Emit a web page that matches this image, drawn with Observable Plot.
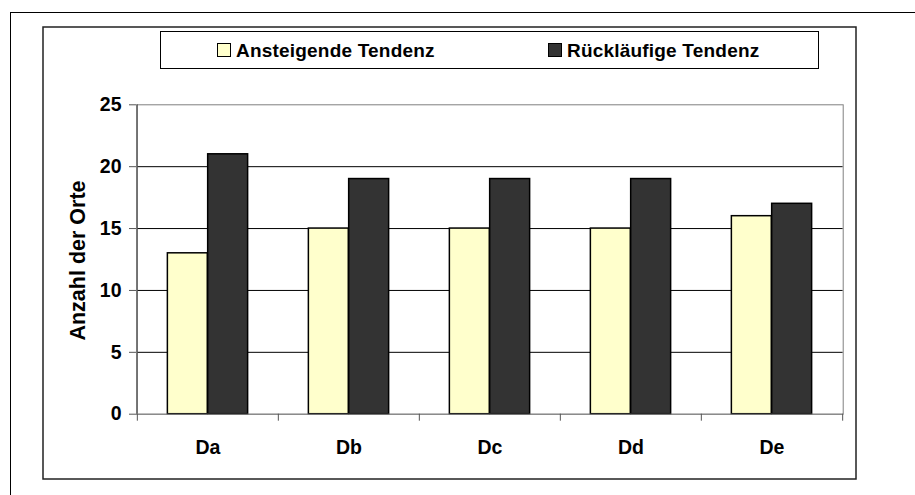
<!DOCTYPE html>
<html><head><meta charset="utf-8">
<script src="https://cdn.jsdelivr.net/npm/d3@7"></script>
<script src="https://cdn.jsdelivr.net/npm/@observablehq/plot@0.6"></script>
<style>body{margin:0;background:#fff} svg{display:block}</style>
</head><body><div id="chart"></div>
<script>
const categories = ["Da", "Db", "Dc", "Dd", "De"];
const seriesNames = ["Ansteigende Tendenz", "Rückläufige Tendenz"];
const ansteigende = [13, 15, 15, 15, 16];
const ruecklaeufige = [21, 19, 19, 19, 17];
const yTicks = [0, 5, 10, 15, 20, 25];
const gridValues = [5, 10, 15, 20];
const colors = ["#FFFFCC", "#333333"];
const yLabel = "Anzahl der Orte";

const data = categories.flatMap((c, i) => [
  {cat: c, series: seriesNames[0], value: ansteigende[i]},
  {cat: c, series: seriesNames[1], value: ruecklaeufige[i]}
]);

const W = 915, H = 495, mL = 136, mR = 72.3, mT = 104.3, mB = 81.3;
const bw = (W - mL - mR) / categories.length;
const barW = 40.3;
const font = "'Liberation Sans', Arial, sans-serif";

const svg = Plot.plot({
  width: W, height: H,
  marginLeft: mL, marginRight: mR, marginTop: mT, marginBottom: mB,
  style: {fontFamily: font, fontSize: "19.5px", fontWeight: "bold", background: "#fff", color: "#000"},
  x: {type: "band", domain: categories, padding: 0, label: null},
  y: {domain: [0, 25], label: null},
  color: {domain: seriesNames, range: colors},
  marks: [
    Plot.ruleY(gridValues, {stroke: "#000", strokeWidth: 1}),
    Plot.frame({stroke: "#808080", strokeWidth: 1}),
    Plot.barY(data.filter(d => d.series === seriesNames[0]), {
      x: "cat", y: "value", fill: "series", stroke: "#000", strokeWidth: 1.5,
      insetLeft: bw / 2 - barW, insetRight: bw / 2
    }),
    Plot.barY(data.filter(d => d.series === seriesNames[1]), {
      x: "cat", y: "value", fill: "series", stroke: "#000", strokeWidth: 1.5,
      insetLeft: bw / 2, insetRight: bw / 2 - barW
    }),
    Plot.ruleY([0], {stroke: "#808080"}),
    Plot.ruleX(categories, {x: d => d, dx: -bw / 2, y1: 0, y2: 0, insetBottom: -7, stroke: "#555"}),
    Plot.ruleX([categories[categories.length - 1]], {x: d => d, dx: bw / 2, y1: 0, y2: 0, insetBottom: -7, stroke: "#555"}),
    Plot.ruleX([categories[0]], {x: d => d, dx: -bw / 2, y1: 0, y2: 25, stroke: "#555"}),
    Plot.axisY({ticks: yTicks, tickSize: 7, tickPadding: 8, tickFormat: d => String(d),
      label: null, stroke: "#555"}),
    Plot.text([yLabel], {frameAnchor: "left", rotate: -90, dx: -58, dy: 1, text: d => d,
      textAnchor: "middle", fontSize: 21.5, fontWeight: "bold", fill: "#000"}),
    Plot.axisX({tickSize: 0, tickPadding: 26, label: null})
  ]
});

const s = d3.select(svg);
// outer border (top/left visible)
s.append("rect").attr("x", 10.5).attr("y", 12.5).attr("width", 1200).attr("height", 1200)
  .attr("fill", "none").attr("stroke", "#000").attr("stroke-width", 1);
// chart area border
s.append("rect").attr("x", 43).attr("y", 27).attr("width", 813).attr("height", 452)
  .attr("fill", "none").attr("stroke", "#222").attr("stroke-width", 1.5);
// legend box
s.append("rect").attr("x", 160.5).attr("y", 31.5).attr("width", 658).attr("height", 37)
  .attr("fill", "#fff").attr("stroke", "#000").attr("stroke-width", 1);
const legendX = [217, 548];
seriesNames.forEach((name, i) => {
  s.append("rect").attr("x", legendX[i] + 0.5).attr("y", 43.5).attr("width", 13).attr("height", 13)
    .attr("fill", colors[i]).attr("stroke", "#000").attr("stroke-width", 1);
  s.append("text").attr("x", legendX[i] + 19).attr("y", 57).attr("text-anchor", "start")
    .attr("font-family", font).attr("font-size", 19).attr("font-weight", "bold")
    .attr("letter-spacing", 0.2).attr("fill", "#000").text(name);
});

document.getElementById("chart").appendChild(svg);
</script>
</body></html>
